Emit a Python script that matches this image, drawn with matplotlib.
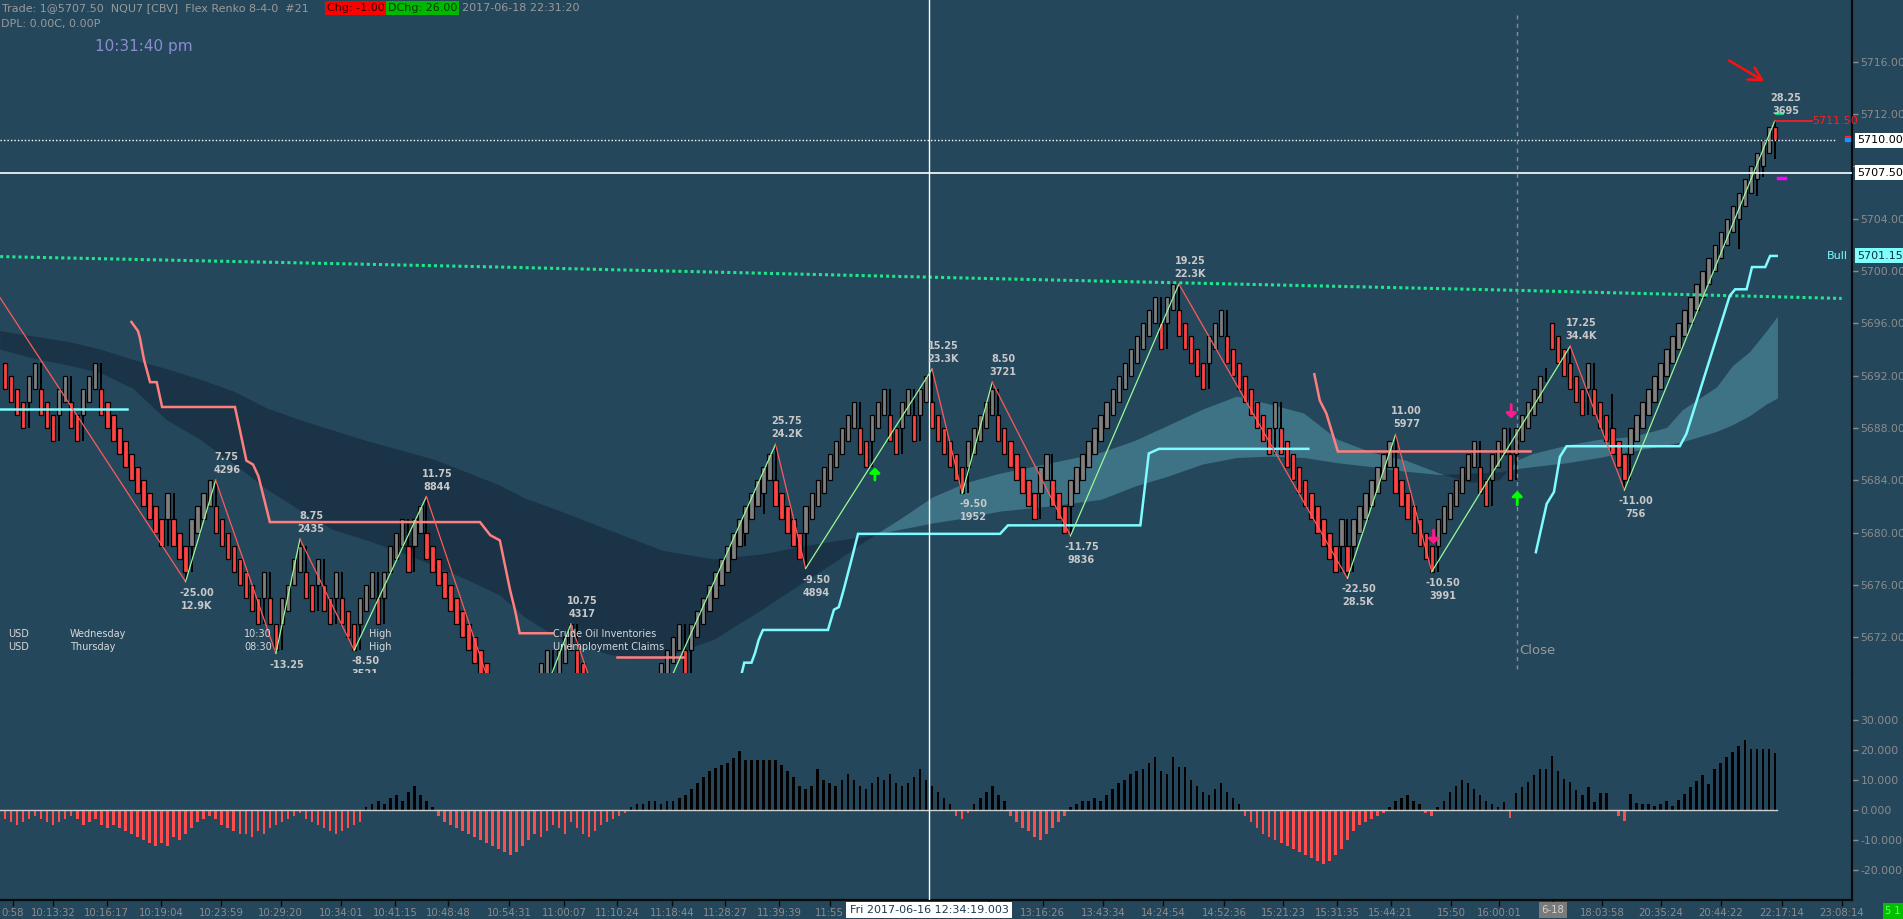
import matplotlib
matplotlib.use("Agg")
import matplotlib.pyplot as plt
from matplotlib.transforms import blended_transform_factory
from matplotlib.patches import Rectangle

plt.rcParams['font.family'] = ['DejaVu Sans']

W, H = 1903, 919
BG = '#24475c'

# ---------------- DATA ----------------
# Flex renko brick bottoms (brick body = 2 points), one per bar
brick_low = [
    5691, 5690, 5689, 5688, 5690, 5691, 5689, 5688, 5687, 5689,
    5690, 5688, 5687, 5689, 5690, 5691, 5689, 5688, 5687, 5686,
    5685, 5684, 5683, 5682, 5681, 5680, 5679, 5681, 5679, 5678,
    5677, 5679, 5680, 5681, 5682, 5680, 5679, 5678, 5677, 5676,
    5675, 5674, 5673, 5675, 5673, 5671, 5673, 5674, 5676, 5677,
    5675, 5674, 5676, 5674, 5673, 5675, 5673, 5672, 5671, 5673,
    5674, 5675, 5673, 5675, 5677, 5678, 5679, 5677, 5679, 5680,
    5678, 5677, 5676, 5675, 5674, 5673, 5672, 5671, 5670, 5669,
    5668, 5667, 5666, 5665, 5664, 5663, 5665, 5666, 5667, 5668,
    5669, 5667, 5669, 5670, 5671, 5669, 5668, 5667, 5666, 5665,
    5664, 5663, 5662, 5661, 5663, 5664, 5665, 5666, 5667, 5668,
    5669, 5670, 5671, 5669, 5671, 5672, 5673, 5674, 5675, 5676,
    5677, 5678, 5679, 5680, 5681, 5682, 5683, 5684, 5682, 5681,
    5680, 5679, 5678, 5680, 5681, 5682, 5683, 5684, 5685, 5686,
    5687, 5688, 5686, 5685, 5687, 5688, 5689, 5687, 5686, 5688,
    5689, 5687, 5689, 5690, 5688, 5687, 5686, 5685, 5684, 5683,
    5685, 5686, 5687, 5688, 5689, 5687, 5686, 5685, 5684, 5683,
    5682, 5681, 5683, 5684, 5682, 5681, 5680, 5682, 5683, 5684,
    5685, 5686, 5687, 5688, 5689, 5690, 5691, 5692, 5693, 5694,
    5695, 5696, 5694, 5696, 5697, 5695, 5694, 5693, 5692, 5691,
    5693, 5694, 5695, 5693, 5692, 5691, 5690, 5689, 5688, 5687,
    5686, 5688, 5686, 5685, 5684, 5683, 5682, 5681, 5680, 5679,
    5678, 5677, 5679, 5677, 5679, 5680, 5681, 5682, 5683, 5684,
    5685, 5683, 5682, 5681, 5680, 5679, 5678, 5677, 5679, 5680,
    5681, 5682, 5683, 5684, 5685, 5683, 5682, 5684, 5685, 5686,
    5684, 5686, 5687, 5688, 5689, 5690, 5691, 5694, 5693, 5692,
    5691, 5690, 5689, 5691, 5689, 5688, 5687, 5686, 5685, 5684,
    5686, 5687, 5688, 5689, 5690, 5691, 5692, 5693, 5694, 5695,
    5696, 5697, 5698, 5699, 5700, 5701, 5702, 5703, 5704, 5705,
    5706, 5707, 5708, 5709, 5710,
]
dir_override = {0: 'D', 257: 'D', 294: 'D'}      # colour overrides (gap / forming brick)
height_override = {294: 1.0}                      # last brick still forming
doji_bars = [256]
extra_wicks = [(123, 5679.0, 5680.0), (126, 5681.4, 5683.0), (256, 5691.5, 5692.6),
               (267, 5688.0, 5690.6), (288, 5701.7, 5704.0), (291, 5705.7, 5707.0),
               (292, 5707.2, 5708.0), (294, 5708.6, 5710.0)]

# histogram (momentum) per bar
hist_vals = [
    -3, -4, -5, -4, -3, -2, -3, -4, -5, -4,
    -3, -2, -3, -5, -4, -3, -5, -6, -5, -6,
    -7, -8, -9, -10, -11, -12, -11, -12, -9, -10,
    -8, -6, -4, -3, -2, -3, -5, -6, -7, -8,
    -8, -9, -7, -8, -6, -5, -4, -3, -2, -1,
    -3, -4, -5, -6, -7, -8, -7, -6, -5, -4,
    1, 2, 3, 2, 4, 5, 3, 6, 8, 5,
    3, 1, -2, -4, -5, -6, -7, -8, -9, -10,
    -11, -12, -13, -14, -15, -14, -12, -10, -8, -9,
    -7, -5, -6, -8, -4, -6, -8, -9, -7, -5,
    -4, -3, -2, -1, 1, 2, 2, 3, 3, 2,
    3, 3, 4, 5, 7, 9, 11, 13, 14, 15,
    15.6, 17.2, 19.7, 16.7, 16.7, 16.7, 16.7, 16.7, 16.7, 15,
    13, 11, 8, 7, 8, 13.7, 10, 9, 8, 10,
    12, 10, 8, 7, 9, 11, 10, 12, 9, 8,
    9, 11, 13.7, 10, 8, 6, 4, 2, -2, -3,
    -1, 2, 4, 6, 8, 5, 3, -2, -4, -6,
    -7, -9, -10, -8, -6, -4, -2, 1, 2, 3,
    3, 4, 3, 5, 7, 9, 10, 12, 13, 13.7,
    15.8, 17.8, 13, 12, 17.8, 14.3, 14.3, 10, 8, 6,
    5, 7, 9, 6, 4, 2, -2, -4, -6, -8,
    -9, -10, -11, -12, -13, -14, -15, -16, -17, -18,
    -17, -15, -13, -10, -7, -5, -4, -3, -2, -1,
    1, 3, 4, 5, 3, 2, -1, -2, 1, 3,
    6, 8, 10, 9, 7, 5, 3, 2, 1,
    2.7, -2.6, 5.8, 7.6, 9.5, 11.7, 13.8, 13.8, 17.9, 13,
    10.5, 9.2, 6.6, 5.1, 7.6, 2.7, 5.6, 5.6, 0, -1.9,
    -3.5, 5.2, 2.3, 2, 2, 1.5, 2, 2.9, 1.5, 3.5,
    5.2, 7.6, 9.7, 11.7, 8.6, 13.7, 15.6, 17.6, 19.5, 21.5,
    23.4, 20.5, 20.5, 20.5, 20.5, 18.9,
]

# zigzag swing points (bar index, price) and labels
zz_idx = [-5.5, 30, 35, 45, 49, 58, 70, 85, 94, 103, 128, 133, 154, 159, 164,
          177, 195, 223, 231, 237, 260, 269, 294]
zz_price = [5701.25, 5676.25, 5684.0, 5670.75, 5679.5, 5671.0, 5682.75, 5662.25,
            5673.0, 5661.0, 5686.75, 5677.25, 5692.5, 5683.0, 5691.5, 5679.75,
            5699.0, 5676.5, 5687.5, 5677.0, 5694.25, 5683.25, 5711.5]
zz_lab1 = ['', '-25.00', '7.75', '-13.25', '8.75', '-8.50', '11.75', '', '10.75', '',
           '25.75', '-9.50', '15.25', '-9.50', '8.50', '-11.75', '19.25', '-22.50',
           '11.00', '-10.50', '17.25', '-11.00', '28.25']
zz_lab2 = ['', '12.9K', '4296', '', '2435', '3521', '8844', '', '4317', '',
           '24.2K', '4894', '23.3K', '1952', '3721', '9836', '22.3K', '28.5K',
           '5977', '3991', '34.4K', '756', '3695']

# cloud ribbon: slow and fast averages
band_idx = [-0.8, 4.7, 10.3, 15.8, 21.3, 26.9, 32.4, 37.9, 43.5, 49.0, 54.5, 60.1,
            65.6, 71.1, 76.7, 82.2, 86.4, 92.4, 100.8, 109.3, 117.8, 126.2, 132.1,
            137.5, 143.2, 148.7, 154.2, 159.8, 165.3, 173.8, 182.1, 187.7, 193.4,
            199.0, 204.7, 210.1, 215.8, 221.4, 227.1, 232.7, 238.4, 243.4, 248.3,
            251.2, 253.8, 259.5, 264.9, 270.4, 276.1, 278.7, 281.6, 284.4, 287.0,
            289.9, 292.7, 294.5]
band_slow = [5695.4, 5695.0, 5694.6, 5694.0, 5693.2, 5692.5, 5691.7, 5690.8, 5689.5,
             5688.6, 5687.8, 5687.0, 5686.3, 5685.6, 5684.6, 5683.6, 5682.6, 5681.6,
             5680.1, 5678.6, 5677.95, 5678.35, 5678.9, 5679.3, 5679.7, 5680.2, 5680.7,
             5681.1, 5681.6, 5682.0, 5682.5, 5683.5, 5684.3, 5685.2, 5685.7, 5685.8,
             5685.7, 5685.3, 5685.0, 5684.65, 5684.4, 5684.5, 5684.6, 5684.85, 5685.0,
             5685.3, 5685.7, 5686.2, 5686.65, 5686.9, 5687.3, 5687.7, 5688.2, 5688.9,
             5689.8, 5690.25]
band_fast = [5694.0, 5693.3, 5692.8, 5692.2, 5691.0, 5688.6, 5687.1, 5685.3, 5683.3,
             5681.7, 5680.2, 5679.4, 5678.5, 5677.5, 5676.4, 5675.2, 5673.5, 5671.8,
             5670.6, 5670.4, 5671.8, 5674.2, 5676.0, 5677.6, 5679.4, 5681.0, 5682.7,
             5683.8, 5684.5, 5685.3, 5686.1, 5687.0, 5688.2, 5689.4, 5690.4, 5689.8,
             5689.1, 5687.1, 5686.1, 5685.5, 5684.5, 5683.8, 5684.0, 5685.5, 5686.0,
             5686.65, 5687.1, 5687.3, 5688.0, 5689.35, 5690.25, 5691.1, 5692.7, 5693.8,
             5695.4, 5696.5]

# long moving average (green dotted)
ma_idx = [-0.8, 82.2, 165.3, 248.3, 305.1]
ma_val = [5701.1, 5700.3, 5699.4, 5698.55, 5697.9]

# trailing stop lines: bull (cyan) and bear (salmon) segments
bull_segs = [
    ([-0.8, 20.3], [5689.45, 5689.45]),
    ([122.0, 122.8, 124.0, 124.6, 125.2, 125.9, 136.7, 137.7, 138.5, 139.3, 140.6,
      141.7, 165.3, 166.6, 188.6, 190.0, 191.7, 216.5],
     [5668.5, 5670.05, 5670.05, 5670.8, 5671.8, 5672.55, 5672.55, 5674.1, 5674.3,
      5675.6, 5677.9, 5679.9, 5679.9, 5680.55, 5680.55, 5686.05, 5686.4, 5686.4]),
    ([254.3, 256.1, 257.3, 258.3, 259.4, 278.2, 279.3, 286.5, 287.4, 289.3, 290.2,
      292.4, 293.2, 294.3],
     [5678.5, 5682.2, 5683.1, 5685.8, 5686.6, 5686.6, 5687.55, 5698.1, 5698.6,
      5698.6, 5700.3, 5700.3, 5701.15, 5701.15]),
]
bear_segs = [
    ([21.0, 22.1, 22.4, 23.1, 24.1, 25.2, 26.1, 38.2, 40.1, 41.2, 42.1, 44.0, 78.9,
      80.6, 82.2, 83.9, 84.7, 85.5, 91.0],
     [5696.1, 5695.4, 5694.9, 5693.2, 5691.5, 5691.5, 5689.6, 5689.6, 5685.5, 5685.2,
      5684.3, 5680.8, 5680.8, 5679.8, 5679.4, 5675.6, 5674.1, 5672.3, 5672.3]),
    ([101.7, 112.7], [5670.5, 5670.5]),
    ([217.5, 218.4, 219.5, 221.4, 253.4], [5692.1, 5690.1, 5689.1, 5686.2, 5686.2]),
]

# signal arrows (bar index, tail price, head price)
up_arrows = [(144.5, 5683.8, 5685.2), (251.2, 5681.9, 5683.4)]
down_arrows = [(237.3, 5680.4, 5678.9), (250.2, 5690.0, 5688.5)]

# economic events
event_rows = [
    ['USD', 'Wednesday', '10:30', 'High', 'Crude Oil Inventories'],
    ['USD', 'Thursday', '08:30', 'High', 'Unemployment Claims'],
]
event_cols = [0.6, 10.8, 39.7, 60.4, 91.1]
event_prices = [5672.24, 5671.22]

# axes ticks
price_ticks = [5672, 5676, 5680, 5684, 5688, 5692, 5696, 5700, 5704, 5708, 5712, 5716]
price_tick_lab = ['5672.00', '5676.00', '5680.00', '5684.00', '5688.00', '5692.00',
                  '5696.00', '5700.00', '5704.00', '', '5712.00', '5716.00']
hist_ticks = [-20, -10, 0, 10, 20, 30]
time_tick_idx = [1.3, 8.0, 16.9, 25.9, 35.9, 45.8, 55.8, 64.8, 73.6, 83.7, 92.9, 101.7,
                 110.8, 119.6, 128.6, 137.0, 163.5, 172.4, 182.4, 192.4, 202.5, 212.3,
                 221.3, 230.2, 240.2, 248.2, 257.1, 265.3, 275.1, 285.0, 295.2, 305.1]
time_tick_lab = ['0:58', '10:13:32', '10:16:17', '10:19:04', '10:23:59', '10:29:20',
                 '10:34:01', '10:41:15', '10:48:48', '10:54:31', '11:00:07', '11:10:24',
                 '11:18:44', '11:28:27', '11:39:39', '11:55', '', '13:16:26',
                 '13:43:34', '14:24:54', '14:52:36', '15:21:23', '15:31:35', '15:44:21',
                 '15:50', '16:00:01', '', '18:03:58', '20:35:24', '20:44:22', '22:17:14',
                 '23:08:14']

crosshair_idx = 153.5
crosshair_price = 5707.5
last_price = 5710.0
bull_value = 5701.15
high_price = 5711.5
close_idx = 251.2

# ---------------- LAYOUT ----------------
PX0, PXSTEP = 5.0, 6.02          # pixel of bar 0 and bar spacing
AX_RIGHT = 1852
MAIN_BOTTOM = 673
HIST_BOTTOM = 900
X0 = (0 - PX0) / PXSTEP
X1 = (AX_RIGHT - PX0) / PXSTEP
PMIN, PMAX = 5669.26, 5720.72

fig = plt.figure(figsize=(W / 100, H / 100), dpi=100, facecolor=BG)
ax = fig.add_axes([0, 1 - MAIN_BOTTOM / H, AX_RIGHT / W, MAIN_BOTTOM / H], facecolor=BG)
axh = fig.add_axes([0, 1 - HIST_BOTTOM / H, AX_RIGHT / W, (HIST_BOTTOM - MAIN_BOTTOM) / H],
                   facecolor=BG)

for a in (ax, axh):
    a.set_xlim(X0, X1)
    for s in ('top', 'left', 'bottom'):
        a.spines[s].set_visible(False)
    a.spines['right'].set_color('#0a0a0a')
    a.spines['right'].set_linewidth(1.6)
axh.spines['bottom'].set_visible(True)
axh.spines['bottom'].set_color('#0a0a0a')
axh.spines['bottom'].set_linewidth(1.6)

ax.set_ylim(PMIN, PMAX)
ax.yaxis.tick_right()
ax.set_yticks(price_ticks)
ax.set_yticklabels(price_tick_lab)
ax.tick_params(axis='y', colors='#8c8c8c', labelsize=7.8, length=4, width=1, pad=2)
ax.tick_params(axis='x', bottom=False, labelbottom=False)

axh.set_ylim(-30, 45.67)
axh.yaxis.tick_right()
axh.set_yticks(hist_ticks)
axh.set_yticklabels([f'{v:.3f}' for v in hist_ticks])
axh.tick_params(axis='y', colors='#8c8c8c', labelsize=7.8, length=4, width=1, pad=2)
axh.set_xticks(time_tick_idx)
axh.set_xticklabels(time_tick_lab)
axh.tick_params(axis='x', color='#0a0a0a', labelcolor='#8c8c8c', labelsize=7.3,
                length=4, width=1, pad=1.5)

# ---------------- CLOUD ----------------
ax.fill_between(band_idx, band_slow, band_fast,
                where=[f < s for f, s in zip(band_fast, band_slow)],
                interpolate=True, color='#1b3346', lw=0, zorder=1)
ax.fill_between(band_idx, band_slow, band_fast,
                where=[f >= s for f, s in zip(band_fast, band_slow)],
                interpolate=True, color='#3d7385', lw=0, zorder=1)

# ---------------- BRICKS ----------------
n = len(brick_low)
dirs = []
for i in range(n):
    if i in dir_override:
        dirs.append(dir_override[i])
    else:
        dirs.append('U' if brick_low[i] > brick_low[i - 1] else 'D')
heights = [height_override.get(i, 2.0) for i in range(n)]
tops = [brick_low[i] + heights[i] for i in range(n)]

wx, wlo, whi = [], [], []
for i in range(1, n):
    if dirs[i] != dirs[i - 1]:
        if dirs[i] == 'U' and brick_low[i - 1] < brick_low[i]:
            wx.append(i); wlo.append(brick_low[i - 1]); whi.append(brick_low[i])
        elif dirs[i] == 'D' and tops[i - 1] > tops[i]:
            wx.append(i); wlo.append(tops[i]); whi.append(tops[i - 1])
for j, p in zip(zz_idx, zz_price):
    if isinstance(j, int) and 0 <= j < n:
        if p > tops[j]:
            wx.append(j); wlo.append(tops[j]); whi.append(p)
        elif p < brick_low[j]:
            wx.append(j); wlo.append(p); whi.append(brick_low[j])
for (j, lo, hi) in extra_wicks:
    wx.append(j); wlo.append(lo); whi.append(hi)
ax.vlines(wx, wlo, whi, color='black', lw=1.4, zorder=4)

up_i = [i for i in range(n) if dirs[i] == 'U' and i not in doji_bars]
dn_i = [i for i in range(n) if dirs[i] == 'D' and i not in doji_bars]
ax.bar(up_i, [heights[i] for i in up_i], bottom=[brick_low[i] for i in up_i], width=0.72,
       color='#7f7f7f', edgecolor='black', linewidth=0.9, zorder=5)
ax.bar(dn_i, [heights[i] for i in dn_i], bottom=[brick_low[i] for i in dn_i], width=0.72,
       color='#ff4242', edgecolor='black', linewidth=0.9, zorder=5)

# ---------------- LINES ----------------
ax.plot(ma_idx, ma_val, color='#1ee68c', lw=2.2, ls=(0, (1, 1)), zorder=6)
for xs, ys in bull_segs:
    ax.plot(xs, ys, color='#7ffcff', lw=1.8, zorder=6, solid_joinstyle='miter')
for xs, ys in bear_segs:
    ax.plot(xs, ys, color='#ff7f7f', lw=1.8, zorder=6, solid_joinstyle='miter')

ax.axhline(crosshair_price, color='white', lw=1.2, zorder=6)
ax.plot([X0, (1835 - PX0) / PXSTEP], [last_price, last_price], color='white', lw=1,
        ls=(0, (1, 1.5)), zorder=6)
ax.axvline(crosshair_idx, color='white', lw=1, zorder=7)
axh.axvline(crosshair_idx, color='white', lw=1, zorder=7)
ax.plot([close_idx, close_idx], [5669.6, 5719.6], color='#8c8c8c', lw=1,
        ls=(0, (3, 3)), zorder=6)
ax.text(close_idx + 0.3, 5670.95, 'Close', color='#9a9a9a', fontsize=9.5,
        va='center', ha='left', zorder=8)

# zigzag
for k in range(1, len(zz_idx)):
    col = '#98fb98' if zz_price[k] > zz_price[k - 1] else '#ff5a5a'
    ax.plot(zz_idx[k - 1:k + 1], zz_price[k - 1:k + 1], color=col, lw=0.9, zorder=7)
for k in range(1, len(zz_idx)):
    is_high = zz_price[k] > zz_price[k - 1]
    offs = [(11, 23), (11, 10)] if is_high else [(11, -11), (11, -24)]
    for txt, off in zip([zz_lab1[k], zz_lab2[k]], offs):
        if not txt:
            continue
        t = ax.annotate(txt, xy=(zz_idx[k], zz_price[k]), xytext=off,
                        textcoords='offset pixels', ha='center', va='center',
                        fontsize=7, fontweight='bold', color='#c8c8c8', zorder=9)
        t.set_clip_path(ax.patch)

# arrows
for (xi, p0, p1) in up_arrows:
    ax.annotate('', xy=(xi, p1), xytext=(xi, p0),
                arrowprops=dict(arrowstyle='-|>,head_width=0.3,head_length=0.3',
                                color='#00ff00', lw=2.0), zorder=9)
for (xi, p0, p1) in down_arrows:
    ax.annotate('', xy=(xi, p1), xytext=(xi, p0),
                arrowprops=dict(arrowstyle='-|>,head_width=0.3,head_length=0.3',
                                color='#ff1a8c', lw=2.0), zorder=9)

# events
for row, pr in zip(event_rows, event_prices):
    for txt, xc in zip(row, event_cols):
        ax.text(xc, pr, txt, color='#d8d8d8', fontsize=7, ha='left', va='center', zorder=9)

# last bar markers
ax.plot([294, 300.2], [high_price, high_price], color='#ff2020', lw=1.2, zorder=7)
ax.text(300.2, high_price, f'{high_price:.2f}', color='#ff2020', fontsize=8,
        ha='left', va='center', zorder=9)
ax.plot([294.5, 295.6], [5707.1, 5707.1], color='#ff00ff', lw=2.5, zorder=8)
ax.plot([294.2, 295.2], [5712.1, 5712.1], color='#00e080', lw=2.0, zorder=8)
ax.add_patch(Rectangle((305.6, 5710.13), 0.9, 0.2, color='#ff2020', zorder=8, clip_on=False))
ax.add_patch(Rectangle((305.6, 5709.93), 0.9, 0.2, color='#1e90ff', zorder=8, clip_on=False))
ax.text(302.7, bull_value, 'Bull', color='#7ffcff', fontsize=8, ha='left', va='center', zorder=9)

# hand-drawn red arrow
ax.annotate('', xy=(292.6, 5714.4), xytext=(286.0, 5716.2),
            arrowprops=dict(arrowstyle='->,head_width=0.5,head_length=0.9',
                            color='#ff1010', lw=1.8), zorder=9)

# right axis value boxes
blend = blended_transform_factory(ax.transAxes, ax.transData)
xbox = 1857 / AX_RIGHT
for val, fc, tc in [(last_price, 'white', 'black'), (crosshair_price, 'white', 'black'),
                    (bull_value, '#80ffff', '#10303c')]:
    ax.text(xbox, val, f'{val:.2f}', transform=blend, ha='left', va='center', fontsize=8,
            color=tc, clip_on=False, zorder=20,
            bbox=dict(boxstyle='square,pad=0.22', fc=fc, ec='none'))

# ---------------- HISTOGRAM ----------------
hx = list(range(len(hist_vals)))
axh.bar(hx, hist_vals, width=0.42,
        color=['#000000' if v >= 0 else '#ff4d4d' for v in hist_vals], zorder=3)
axh.plot([X0, n - 0.7], [0, 0], color='#d0d0d0', lw=1, zorder=4)

# ---------------- HEADER / FOOTER ----------------
def fx(px):
    return px / W

def fy(py):
    return 1 - py / H

fig.text(fx(2), fy(8), 'Trade: 1@5707.50  NQU7 [CBV]  Flex Renko 8-4-0  #21',
         color='#9a9a9a', fontsize=8, va='center', ha='left')
fig.text(fx(327), fy(8), 'Chg: -1.00', color='#3a0000', fontsize=8, va='center', ha='left',
         bbox=dict(boxstyle='square,pad=0.15', fc='#ff0000', ec='none'))
fig.text(fx(388), fy(8), 'DChg: 26.00', color='#003a00', fontsize=8, va='center', ha='left',
         bbox=dict(boxstyle='square,pad=0.15', fc='#00b800', ec='none'))
fig.text(fx(462), fy(8), '2017-06-18 22:31:20', color='#9a9a9a', fontsize=8,
         va='center', ha='left')
fig.text(fx(1), fy(24), 'DPL: 0.00C, 0.00P', color='#9a9a9a', fontsize=8,
         va='center', ha='left')
fig.text(fx(95), fy(47), '10:31:40 pm', color='#8c8cd0', fontsize=11,
         va='center', ha='left')

fig.text(fx(929), fy(910), 'Fri 2017-06-16 12:34:19.003', color='#1d3a52', fontsize=8,
         ha='center', va='center', zorder=30,
         bbox=dict(boxstyle='square,pad=0.3', fc='white', ec='none'))
fig.text(fx(1553), fy(910), '6-18', color='#d0d0d0', fontsize=7.3, ha='center',
         va='center', zorder=30, bbox=dict(boxstyle='square,pad=0.25', fc='#7a7a7a', ec='none'))
fig.patches.append(Rectangle((fx(1883), fy(919)), fx(20), 16 / H, transform=fig.transFigure,
                             fc='#00c000', ec='none', zorder=30))
fig.text(fx(1893), fy(911), '5 1', color='#70ff70', fontsize=7, ha='center', va='center',
         zorder=31)

fig.savefig('out.png', dpi=100, facecolor=BG)
